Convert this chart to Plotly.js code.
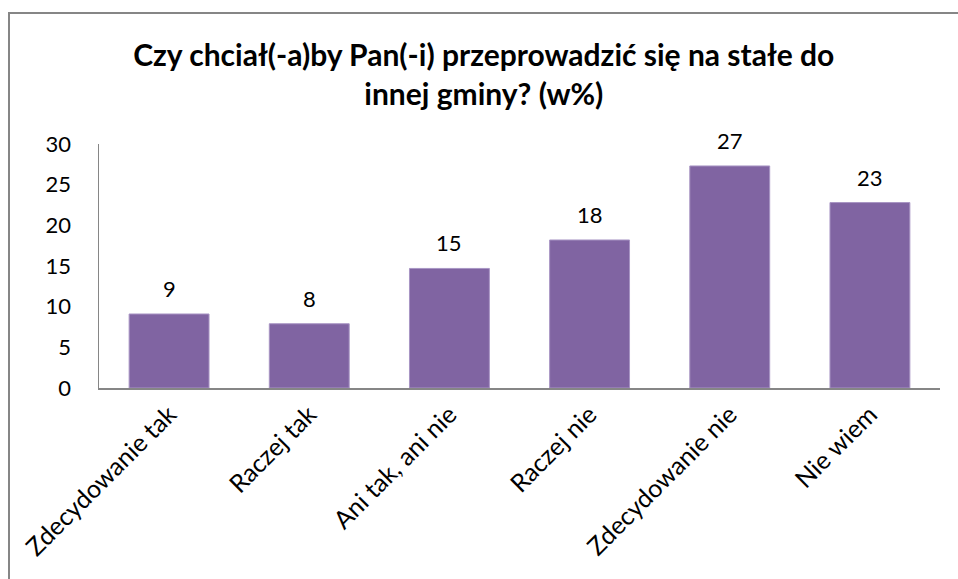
<!DOCTYPE html>
<html>
<head>
<meta charset="utf-8">
<script src="https://cdn.plot.ly/plotly-3.0.1.min.js"></script>
<style>
  html, body { margin: 0; padding: 0; background: #fff; }
  #wrap { position: relative; width: 958px; height: 579px; overflow: hidden; }
  #chart { position: absolute; left: 0; top: 0; width: 958px; height: 579px; }
  #frame { position: absolute; left: 8px; top: 12px; width: 1000px; height: 700px;
           border-left: 2px solid #868686; border-top: 2px solid #868686; pointer-events: none; }
</style>
</head>
<body>
<div id="wrap">
  <div id="chart"></div>
  <div id="frame"></div>
</div>
<script>
const categories = ["Zdecydowanie tak", "Raczej tak", "Ani tak, ani nie", "Raczej nie", "Zdecydowanie nie", "Nie wiem"];
const values = [9.1, 7.9, 14.7, 18.2, 27.3, 22.8];
const labels = ["9", "8", "15", "18", "27", "23"];
const titleText = "Czy chciał(-a)by Pan(-i) przeprowadzić się na stałe do<br>innej gminy? (w%)";

const FONT = "Lato, 'Open Sans', sans-serif";

const trace = {
  type: "bar",
  x: categories,
  y: values,
  marker: { color: "#8064A2", line: { color: "#A895C4", width: 1 } },
  hoverinfo: "skip",
  showlegend: false
};

const annotations = categories.map((c, i) => ({
  x: c, y: values[i], xref: "x", yref: "y",
  text: labels[i], showarrow: false,
  yanchor: "bottom", yshift: 10,
  font: { family: FONT, size: 22, color: "#000" }
}));

const layout = {
  width: 958, height: 579,
  margin: { l: 99, r: 18, t: 144, b: 191 },
  paper_bgcolor: "#fff", plot_bgcolor: "#fff",
  title: {
    text: titleText,
    font: { family: FONT, size: 30, color: "#000", weight: "bold" },
    x: 0.505, xanchor: "center", y: 0.886, yanchor: "top"
  },
  bargap: 0.43,
  xaxis: {
    type: "category",
    showline: true, linecolor: "#868686", linewidth: 2,
    showgrid: false, zeroline: false, ticks: "",
    tickangle: -45,
    tickfont: { family: FONT, size: 25, color: "#000" }
  },
  yaxis: {
    range: [0, 30], dtick: 5, tick0: 0,
    showline: true, linecolor: "#868686", linewidth: 1.5,
    showgrid: false, zeroline: false, ticks: "",
    ticklabelstandoff: 22,
    tickfont: { family: FONT, size: 22, color: "#000" }
  },
  annotations: annotations
};

Plotly.newPlot("chart", [trace], layout, { staticPlot: true, displayModeBar: false });
</script>
</body>
</html>
